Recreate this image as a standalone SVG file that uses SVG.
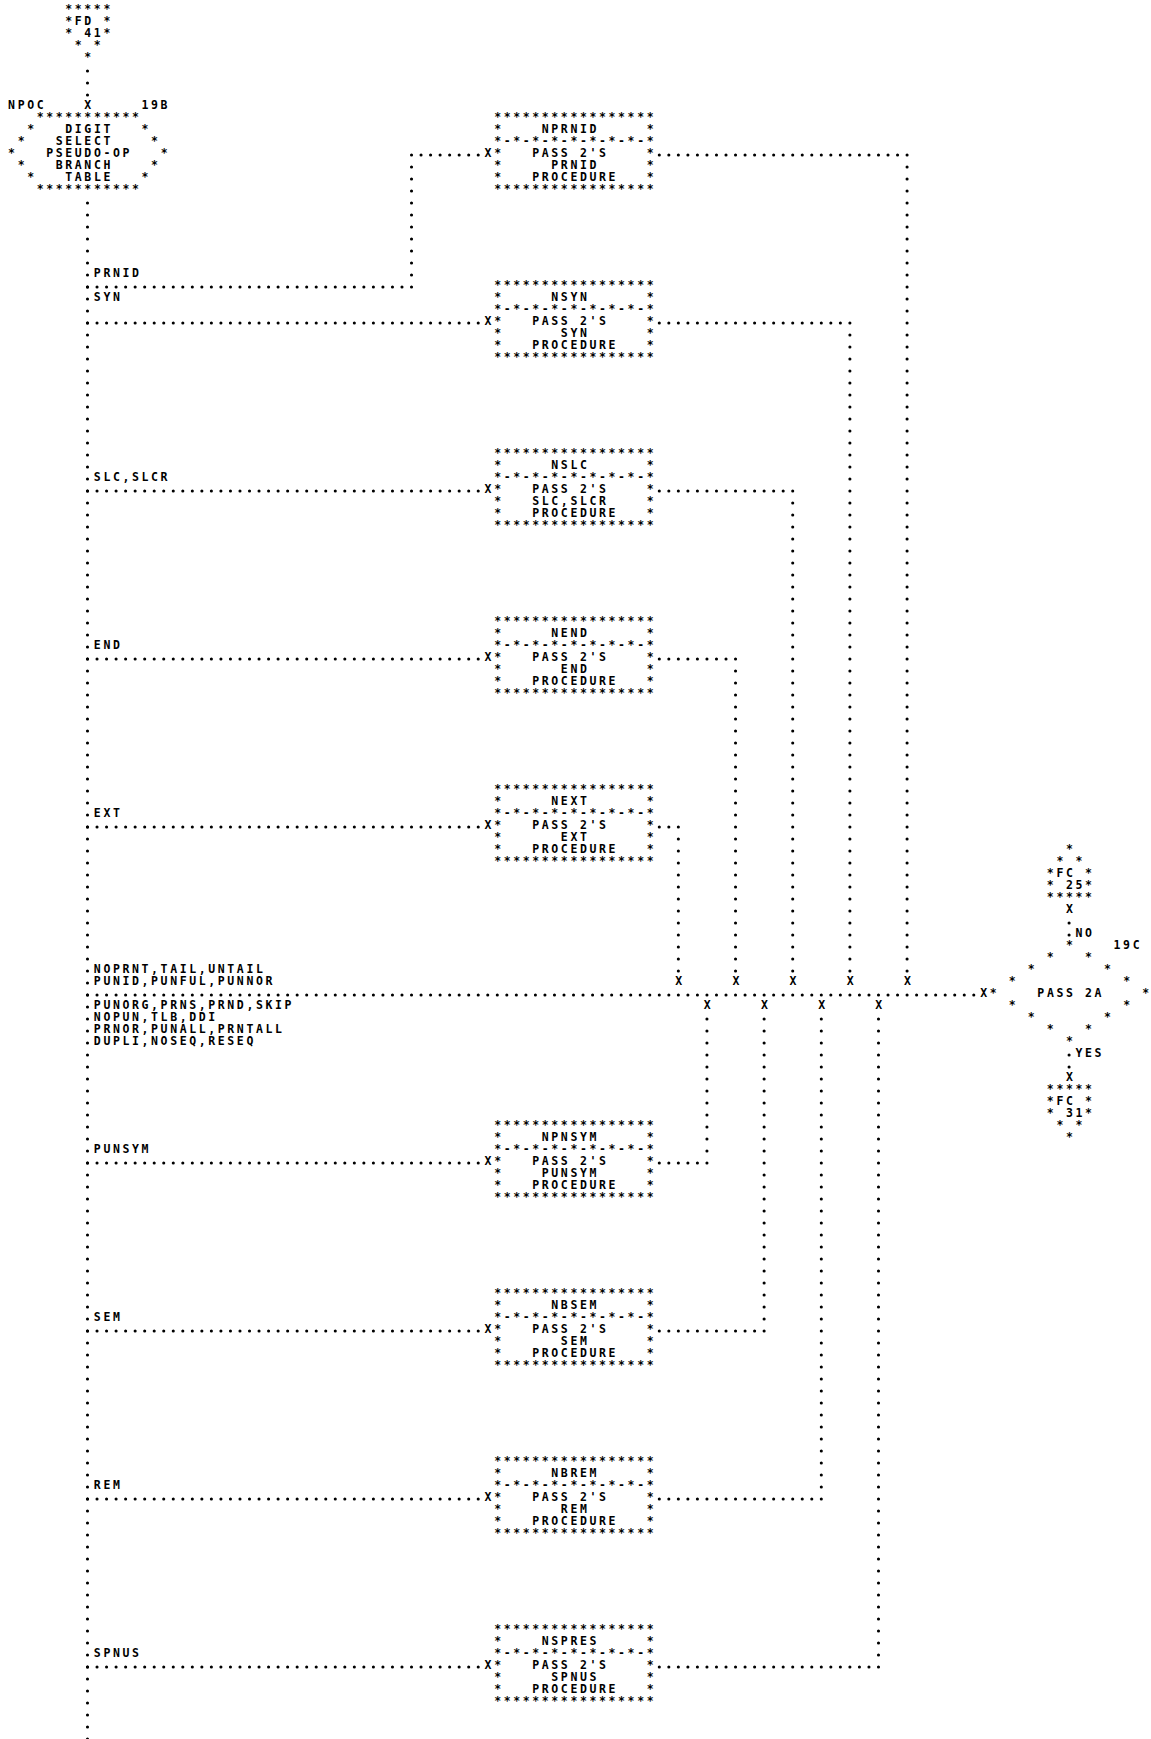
<svg xmlns="http://www.w3.org/2000/svg" width="1151" height="1739" viewBox="0 0 1151 1739" xml:space="preserve">
<style>
text{font-family:"DejaVu Sans Mono",monospace;font-size:11.5px;font-weight:bold;letter-spacing:2.61px;white-space:pre;fill:#000}
.h{fill:none;stroke:#000;stroke-width:3.1;stroke-linecap:round;stroke-dasharray:0 9.53}
.v{fill:none;stroke:#000;stroke-width:3.1;stroke-linecap:round;stroke-dasharray:0 12}
</style>
<rect width="1151" height="1739" fill="#fff"/>
<g id="fd41">
<text x="65.28" y="12.8">*****</text>
<text x="65.28" y="24.8">*FD *</text>
<text x="65.28" y="36.8">* 41*</text>
<text x="74.81" y="48.8">* *</text>
<text x="84.34" y="60.8">*</text>
</g>
<g id="npoc">
<text x="8.10" y="108.8">NPOC</text>
<text x="141.52" y="108.8">19B</text>
<text x="36.69" y="120.8">***********</text>
<text x="27.16" y="132.8">*   DIGIT   *</text>
<text x="17.63" y="144.8">*   SELECT    *</text>
<text x="8.10" y="156.8">*   PSEUDO-OP   *</text>
<text x="17.63" y="168.8">*   BRANCH    *</text>
<text x="27.16" y="180.8">*   TABLE   *</text>
<text x="36.69" y="192.8">***********</text>
</g>
<g id="nprnid" transform="translate(494.13,120.8)">
<text y="0">*****************</text>
<text y="12">*    NPRNID     *</text>
<text y="24">*-*-*-*-*-*-*-*-*</text>
<text y="36">*   PASS 2'S    *</text>
<text y="48">*     PRNID     *</text>
<text y="60">*   PROCEDURE   *</text>
<text y="72">*****************</text>
</g>
<g id="nsyn" transform="translate(494.13,288.8)">
<text y="0">*****************</text>
<text y="12">*     NSYN      *</text>
<text y="24">*-*-*-*-*-*-*-*-*</text>
<text y="36">*   PASS 2'S    *</text>
<text y="48">*      SYN      *</text>
<text y="60">*   PROCEDURE   *</text>
<text y="72">*****************</text>
</g>
<g id="nslc" transform="translate(494.13,456.8)">
<text y="0">*****************</text>
<text y="12">*     NSLC      *</text>
<text y="24">*-*-*-*-*-*-*-*-*</text>
<text y="36">*   PASS 2'S    *</text>
<text y="48">*   SLC,SLCR    *</text>
<text y="60">*   PROCEDURE   *</text>
<text y="72">*****************</text>
</g>
<g id="nend" transform="translate(494.13,624.8)">
<text y="0">*****************</text>
<text y="12">*     NEND      *</text>
<text y="24">*-*-*-*-*-*-*-*-*</text>
<text y="36">*   PASS 2'S    *</text>
<text y="48">*      END      *</text>
<text y="60">*   PROCEDURE   *</text>
<text y="72">*****************</text>
</g>
<g id="next" transform="translate(494.13,792.8)">
<text y="0">*****************</text>
<text y="12">*     NEXT      *</text>
<text y="24">*-*-*-*-*-*-*-*-*</text>
<text y="36">*   PASS 2'S    *</text>
<text y="48">*      EXT      *</text>
<text y="60">*   PROCEDURE   *</text>
<text y="72">*****************</text>
</g>
<g id="npnsym" transform="translate(494.13,1128.8)">
<text y="0">*****************</text>
<text y="12">*    NPNSYM     *</text>
<text y="24">*-*-*-*-*-*-*-*-*</text>
<text y="36">*   PASS 2'S    *</text>
<text y="48">*    PUNSYM     *</text>
<text y="60">*   PROCEDURE   *</text>
<text y="72">*****************</text>
</g>
<g id="nbsem" transform="translate(494.13,1296.8)">
<text y="0">*****************</text>
<text y="12">*     NBSEM     *</text>
<text y="24">*-*-*-*-*-*-*-*-*</text>
<text y="36">*   PASS 2'S    *</text>
<text y="48">*      SEM      *</text>
<text y="60">*   PROCEDURE   *</text>
<text y="72">*****************</text>
</g>
<g id="nbrem" transform="translate(494.13,1464.8)">
<text y="0">*****************</text>
<text y="12">*     NBREM     *</text>
<text y="24">*-*-*-*-*-*-*-*-*</text>
<text y="36">*   PASS 2'S    *</text>
<text y="48">*      REM      *</text>
<text y="60">*   PROCEDURE   *</text>
<text y="72">*****************</text>
</g>
<g id="nspres" transform="translate(494.13,1632.8)">
<text y="0">*****************</text>
<text y="12">*    NSPRES     *</text>
<text y="24">*-*-*-*-*-*-*-*-*</text>
<text y="36">*   PASS 2'S    *</text>
<text y="48">*     SPNUS     *</text>
<text y="60">*   PROCEDURE   *</text>
<text y="72">*****************</text>
</g>
<g id="fc25">
<text x="1065.93" y="852.8">*</text>
<text x="1056.4" y="864.8">* *</text>
<text x="1046.87" y="876.8">*FC *</text>
<text x="1046.87" y="888.8">* 25*</text>
<text x="1046.87" y="900.8">*****</text>
</g>
<g id="pass2a">
<text x="1113.58" y="948.8">19C</text>
<text x="1065.93" y="948.8">*</text>
<text x="1046.87" y="960.8">*   *</text>
<text x="1027.81" y="972.8">*       *</text>
<text x="1008.75" y="984.8">*           *</text>
<text x="989.69" y="996.8">*    PASS 2A    *</text>
<text x="1008.75" y="1008.8">*           *</text>
<text x="1027.81" y="1020.8">*       *</text>
<text x="1046.87" y="1032.8">*   *</text>
<text x="1065.93" y="1044.8">*</text>
</g>
<g id="fc31">
<text x="1046.87" y="1092.8">*****</text>
<text x="1046.87" y="1104.8">*FC *</text>
<text x="1046.87" y="1116.8">* 31*</text>
<text x="1056.4" y="1128.8">* *</text>
<text x="1065.93" y="1140.8">*</text>
</g>
<g id="connectors">
<path class="v" d="M87.5 71V95.3"/>
<path class="v" d="M87.5 203V1740"/>
<path class="h" d="M87.5 287H411.8"/>
<path class="v" d="M411.52 155V275.3"/>
<path class="h" d="M421.05 155H478.5"/>
<path class="h" d="M659.3 155H907.4"/>
<path class="v" d="M907.08 167V971.3"/>
<path class="h" d="M87.5 323H478.5"/>
<path class="h" d="M659.3 323H850.2"/>
<path class="v" d="M849.9 335V971.3"/>
<path class="h" d="M87.5 491H478.5"/>
<path class="h" d="M659.3 491H793"/>
<path class="v" d="M792.72 503V971.3"/>
<path class="h" d="M87.5 659H478.5"/>
<path class="h" d="M659.3 659H735.8"/>
<path class="v" d="M735.54 671V971.3"/>
<path class="h" d="M87.5 827H478.5"/>
<path class="h" d="M659.3 827H678.6"/>
<path class="v" d="M678.36 839V971.3"/>
<path class="h" d="M87.5 995H974.1"/>
<path class="h" d="M87.5 1163H478.5"/>
<path class="h" d="M659.3 1163H707.2"/>
<path class="v" d="M706.95 1019V1151.3"/>
<path class="h" d="M87.5 1331H478.5"/>
<path class="h" d="M659.3 1331H764.4"/>
<path class="v" d="M764.13 1019V1319.3"/>
<path class="h" d="M87.5 1499H478.5"/>
<path class="h" d="M659.3 1499H821.6"/>
<path class="v" d="M821.31 1019V1487.3"/>
<path class="h" d="M87.5 1667H478.5"/>
<path class="h" d="M659.3 1667H878.8"/>
<path class="v" d="M878.49 1019V1655.3"/>
<path class="v" d="M1069.09 923V935.3"/>
<path class="v" d="M1069.09 1055V1067.3"/>
<text x="84.34" y="108.8">X</text>
<text x="484.6" y="156.8">X</text>
<text x="484.6" y="324.8">X</text>
<text x="484.6" y="492.8">X</text>
<text x="484.6" y="660.8">X</text>
<text x="484.6" y="828.8">X</text>
<text x="484.6" y="1164.8">X</text>
<text x="484.6" y="1332.8">X</text>
<text x="484.6" y="1500.8">X</text>
<text x="484.6" y="1668.8">X</text>
<text x="675.2" y="984.8">X</text>
<text x="732.38" y="984.8">X</text>
<text x="789.56" y="984.8">X</text>
<text x="846.74" y="984.8">X</text>
<text x="903.92" y="984.8">X</text>
<text x="703.79" y="1008.8">X</text>
<text x="760.97" y="1008.8">X</text>
<text x="818.15" y="1008.8">X</text>
<text x="875.33" y="1008.8">X</text>
<text x="980.16" y="996.8">X</text>
<text x="1065.93" y="912.8">X</text>
<text x="1065.93" y="1080.8">X</text>
<text x="93.87" y="276.8">PRNID</text>
<text x="93.87" y="300.8">SYN</text>
<text x="93.87" y="480.8">SLC,SLCR</text>
<text x="93.87" y="648.8">END</text>
<text x="93.87" y="816.8">EXT</text>
<text x="93.87" y="972.8">NOPRNT,TAIL,UNTAIL</text>
<text x="93.87" y="984.8">PUNID,PUNFUL,PUNNOR</text>
<text x="93.87" y="1008.8">PUNORG,PRNS,PRND,SKIP</text>
<text x="93.87" y="1020.8">NOPUN,TLB,DDI</text>
<text x="93.87" y="1032.8">PRNOR,PUNALL,PRNTALL</text>
<text x="93.87" y="1044.8">DUPLI,NOSEQ,RESEQ</text>
<text x="93.87" y="1152.8">PUNSYM</text>
<text x="93.87" y="1320.8">SEM</text>
<text x="93.87" y="1488.8">REM</text>
<text x="93.87" y="1656.8">SPNUS</text>
<text x="1075.46" y="936.8">NO</text>
<text x="1075.46" y="1056.8">YES</text>
</g>
</svg>
